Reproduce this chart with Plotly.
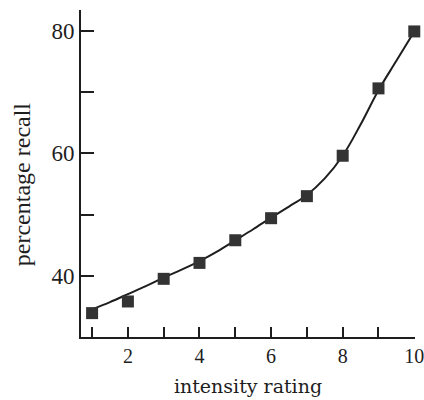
import plotly.graph_objects as go

# observed data points
intensity = [1, 2, 3, 4, 5, 6, 7, 8, 9, 10]
recall = [33.9, 35.8, 39.5, 42.1, 45.8, 49.4, 53.0, 59.6, 70.6, 79.9]

# fitted curve
curve_x = [1, 1.5, 2, 2.5, 3, 3.5, 4, 4.5, 5, 5.5, 6, 6.5, 7, 7.5, 8, 8.5, 9, 9.5, 10]
curve_y = [34.5, 35.7, 37.0, 38.3, 39.7, 41.0, 42.4, 44.0, 45.8, 47.6, 49.5, 51.3,
           53.2, 55.9, 59.6, 64.7, 70.3, 75.1, 79.9]

x_tickvals = [1, 2, 3, 4, 5, 6, 7, 8, 9, 10]
x_ticktext = ["", "2", "", "4", "", "6", "", "8", "", "10"]
y_tickvals = [40, 50, 60, 70, 80]
y_ticktext = ["40", "", "60", "", "80"]
x_title = "intensity rating"
y_title = "percentage recall"

ink = "#1e1e1e"
font = "Liberation Serif"

fig = go.Figure()
fig.add_trace(go.Scatter(
    x=curve_x, y=curve_y, mode="lines",
    line=dict(color=ink, width=2, shape="spline", smoothing=1.0),
    hoverinfo="skip", showlegend=False, cliponaxis=False,
))
fig.add_trace(go.Scatter(
    x=intensity, y=recall, mode="markers",
    marker=dict(symbol="square", size=12, color="#333333"),
    showlegend=False, cliponaxis=False,
))

fig.add_annotation(
    text=y_title, xref="paper", yref="paper", x=-0.176, y=0.468,
    xanchor="center", yanchor="middle", textangle=-90, showarrow=False,
    font=dict(size=24, family=font, color=ink),
)

fig.update_layout(
    width=424, height=400,
    margin=dict(l=81, r=9, t=10, b=63),
    paper_bgcolor="white", plot_bgcolor="white",
    font=dict(family=font, color=ink),
    xaxis=dict(
        range=[0.69, 10.02], showgrid=False, zeroline=False, automargin=False,
        showline=True, linecolor=ink, linewidth=2,
        ticks="inside", ticklen=10, tickwidth=1.5, tickcolor=ink,
        tickvals=x_tickvals, ticktext=x_ticktext, ticklabeloverflow="allow",
        tickfont=dict(size=20, family=font, color=ink),
        title=dict(text=x_title, font=dict(size=19, family="DejaVu Serif", color=ink), standoff=14),
    ),
    yaxis=dict(
        range=[30, 83.4], showgrid=False, zeroline=False, automargin=False,
        showline=True, linecolor=ink, linewidth=2,
        ticks="inside", ticklen=13, tickwidth=1.5, tickcolor=ink,
        tickvals=y_tickvals, ticktext=y_ticktext,
        tickfont=dict(size=23, family=font, color=ink),
    ),
)

fig.write_html("out.html", config={"displayModeBar": False},
               post_script="document.body.style.margin='0';")
